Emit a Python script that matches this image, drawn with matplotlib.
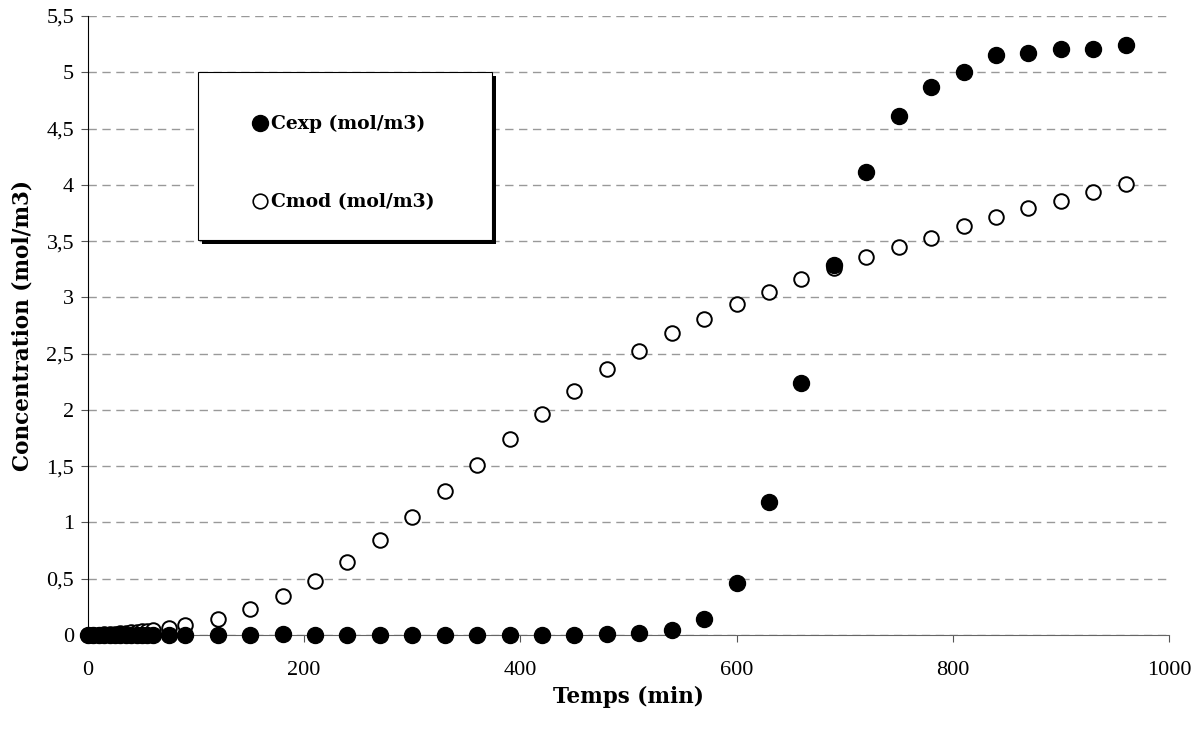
import matplotlib.pyplot as plt
from matplotlib.patches import Rectangle
from matplotlib.lines import Line2D
from matplotlib.ticker import FuncFormatter

plt.rcParams['font.family'] = ['Liberation Serif', 'DejaVu Serif']
label_font = ['DejaVu Serif']

# temps (min)
temps = [0, 5, 10, 15, 20, 25, 30, 35, 40, 45, 50, 55, 60, 75, 90,
         120, 150, 180, 210, 240, 270, 300, 330, 360, 390, 420, 450, 480,
         510, 540, 570, 600, 630, 660, 690, 720, 750, 780, 810, 840, 870,
         900, 930, 960]

c_exp = [0, 0, 0, 0, 0, 0, 0, 0, 0, 0, 0, 0, 0, 0, 0,
         0, 0, 0.005, 0, 0, 0, 0, 0, 0, 0, 0, 0, 0.005,
         0.02, 0.045, 0.14, 0.465, 1.18, 2.24, 3.29, 4.11, 4.61, 4.87, 5.0, 5.15, 5.17,
         5.21, 5.21, 5.24]

c_mod = [0, 0.002, 0.004, 0.006, 0.009, 0.012, 0.015, 0.019, 0.023, 0.027, 0.032, 0.037, 0.042, 0.06, 0.09,
         0.14, 0.23, 0.35, 0.48, 0.65, 0.84, 1.05, 1.28, 1.51, 1.74, 1.96, 2.17, 2.36,
         2.52, 2.68, 2.81, 2.94, 3.05, 3.16, 3.26, 3.36, 3.45, 3.53, 3.63, 3.71, 3.79,
         3.86, 3.94, 4.01]

fig = plt.figure(figsize=(12.02, 7.29), dpi=100)
ax = fig.add_axes([0.0732, 0.129, 0.8993, 0.849])

ax.plot(temps, c_mod, 'o', ms=10.5, mfc='white', mec='black', mew=1.4, clip_on=False, zorder=3)
ax.plot(temps, c_exp, 'o', ms=11.5, mfc='black', mec='black', clip_on=False, zorder=4)

ax.set_xlim(0, 1000)
ax.set_ylim(0, 5.5)
ax.set_xticks([0, 200, 400, 600, 800, 1000])
ax.set_yticks([i * 0.5 for i in range(12)])
fmt = FuncFormatter(lambda v, p: ('%g' % v).replace('.', ','))
ax.yaxis.set_major_formatter(fmt)
ax.tick_params(axis='both', direction='out', labelsize=16, length=5, color='#555555')
ax.tick_params(axis='y', pad=5)
ax.tick_params(axis='x', pad=14)

ax.yaxis.grid(True, linestyle=(0, (6, 4)), color='#999999', lw=1)
ax.set_axisbelow(True)
for s in ['top', 'right']:
    ax.spines[s].set_visible(False)
ax.spines['left'].set_color('black')
ax.spines['bottom'].set_color('#666666')

ax.set_xlabel('Temps (min)', fontsize=15.5, fontweight='bold', family=label_font, labelpad=4)
ax.set_ylabel('Concentration (mol/m3)', fontsize=15.5, fontweight='bold', family=label_font, labelpad=9)

# legend box with shadow
lx, ly, lw_, lh = 0.1018, 0.638, 0.272, 0.2715
ax.add_patch(Rectangle((lx + 0.004, ly - 0.0065), lw_, lh, transform=ax.transAxes,
                       facecolor='black', edgecolor='none', zorder=5))
ax.add_patch(Rectangle((lx, ly), lw_, lh, transform=ax.transAxes,
                       facecolor='white', edgecolor='black', lw=0.8, zorder=6))
handles = [Line2D([], [], ls='none', marker='o', ms=11.5, mfc='black', mec='black'),
           Line2D([], [], ls='none', marker='o', ms=10.5, mfc='white', mec='black', mew=1.2)]
leg = ax.legend(handles, ['Cexp (mol/m3)', 'Cmod (mol/m3)'], loc='center left',
                bbox_to_anchor=(0.151, 0.762), frameon=False, borderpad=0, borderaxespad=0,
                prop={'size': 13.5, 'weight': 'bold', 'family': label_font},
                handlelength=0.9, handletextpad=0.15, labelspacing=3.2)
leg.set_zorder(7)

fig.savefig('out.png', dpi=100)
